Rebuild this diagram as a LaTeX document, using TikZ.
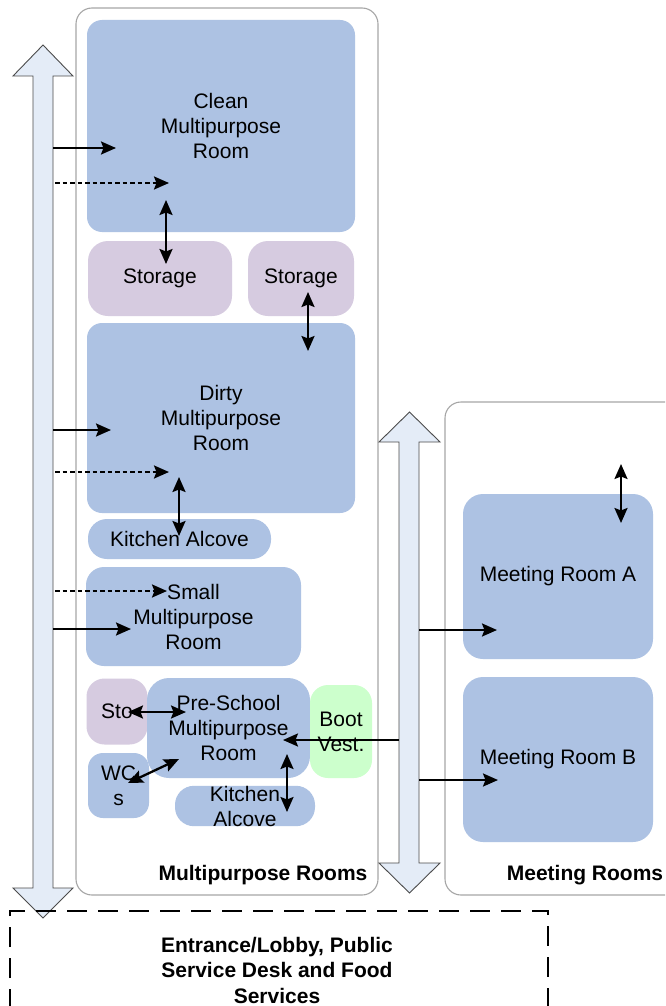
\documentclass[tikz,border=0pt]{standalone}
\usepackage{fontspec}
\setmainfont{Liberation Sans}
\usetikzlibrary{arrows.meta}
\definecolor{roomblue}{HTML}{ADC2E3}
\definecolor{roomlav}{HTML}{D6CBE0}
\definecolor{roomgreen}{HTML}{CCFFCC}
\definecolor{corrfill}{HTML}{E4ECF7}
\definecolor{contgray}{HTML}{A6A6A6}
\tikzset{
  room/.style={fill=roomblue, draw=none, rounded corners=15pt, inner sep=0pt, align=center,
    font=\fontsize{21}{25}\selectfont},
  lav/.style={room, fill=roomlav},
  green/.style={room, fill=roomgreen},
  container/.style={draw=contgray, line width=1.1pt, rounded corners=16pt},
  corridor/.style={draw=black!70, line width=0.9pt, fill=corrfill},
  flow/.style={line width=2.3pt, -{Stealth[length=15pt,width=13pt,inset=2.5pt]}},
  dflow/.style={flow, dash pattern=on 4.5pt off 3pt},
  both/.style={line width=2.3pt, {Stealth[length=15pt,width=13pt,inset=2.5pt]}-{Stealth[length=15pt,width=13pt,inset=2.5pt]}},
  lbl/.style={font=\fontsize{21}{25}\selectfont\bfseries, align=center, inner sep=0pt}
}
\begin{document}
\begin{tikzpicture}[x=1pt,y=-1pt]
\clip (0,0) rectangle (665,1006);
\fill[white] (0,0) rectangle (665,1006);

% containers
\draw[container] (76,8) rectangle (378,895);
\draw[container] (445,402) rectangle (690,895);
\node[lbl] (mplabel) at (263,875) {Multipurpose Rooms};
\node[lbl] (mtlabel) at (585,875) {Meeting Rooms};

% corridors (double arrows)
\draw[corridor] (43,45) -- (73,76) -- (53,76) -- (53,888) -- (73,888) -- (43,918)
  -- (13,888) -- (33,888) -- (33,76) -- (13,76) -- cycle;
\draw[corridor] (409.5,412) -- (440,442) -- (419,442) -- (419,863) -- (440,863) -- (409.5,893)
  -- (379,863) -- (399,863) -- (399,442) -- (379,442) -- cycle;

% rooms
\node[room, minimum width=268pt, minimum height=212pt] (clean) at (221,126) {Clean\\Multipurpose\\Room};
\node[lav, minimum width=144pt, minimum height=75pt, rounded corners=20pt] (stor1) at (160,278.5) {Storage};
\node[lav, minimum width=106pt, minimum height=75pt, rounded corners=20pt] (stor2) at (301,278.5) {Storage};
\node[room, minimum width=268pt, minimum height=190pt] (dirty) at (221,418) {Dirty\\Multipurpose\\Room};
\node[room, minimum width=183pt, minimum height=40pt, rounded corners=19pt] (kit1) at (179.5,539) {Kitchen Alcove};
\node[room, minimum width=215pt, minimum height=99pt, rounded corners=18pt] (small) at (193.5,616.5) {Small\\Multipurpose\\Room};
\node[lav, minimum width=61pt, minimum height=66pt, rounded corners=18pt] (sto) at (117,711.5) {Sto};
\node[room, minimum width=163pt, minimum height=100pt, rounded corners=22pt] (pre) at (228.5,728) {Pre-School\\Multipurpose\\Room};
\node[green, minimum width=62pt, minimum height=93pt, rounded corners=18pt] (boot) at (341,731.5) {Boot\\Vest.};
\node[room, minimum width=61pt, minimum height=65pt, rounded corners=15pt] (wc) at (118.5,785.5) {WC\\s};
\node[room, minimum width=140pt, minimum height=40pt, rounded corners=19pt] (kit2) at (245,806) {Kitchen\\Alcove};
\node[room, minimum width=190pt, minimum height=165pt, rounded corners=20pt] (ma) at (558,576.5) {Meeting Room A};
\node[room, minimum width=190pt, minimum height=165pt, rounded corners=20pt] (mb) at (558,759.5) {Meeting Room B};

% entrance
\draw[line width=2.4pt, dash pattern=on 20pt off 11pt] (10,1040) -- (10,911) -- (548,911) -- (548,1040);
\node[lbl, font=\fontsize{21}{25.5}\selectfont\bfseries] (ent) at (277,970) {Entrance/Lobby, Public\\Service Desk and Food\\Services};

% connector end points
\coordinate (a1s) at (53,148);   \coordinate (a1e) at (116,148);
\coordinate (a2s) at (55,183);   \coordinate (a2e) at (169,183);
\coordinate (a3s) at (166,200);  \coordinate (a3e) at (166,264);
\coordinate (a4s) at (308,292);  \coordinate (a4e) at (308,351);
\coordinate (a5s) at (53,430);   \coordinate (a5e) at (111,430);
\coordinate (a6s) at (55,472);   \coordinate (a6e) at (169,472);
\coordinate (a7s) at (179,477);  \coordinate (a7e) at (179,536);
\coordinate (a8s) at (55,591);   \coordinate (a8e) at (167,591);
\coordinate (a9s) at (53,629);   \coordinate (a9e) at (131,629);
\coordinate (b1s) at (128,712);  \coordinate (b1e) at (186,712);
\coordinate (b2s) at (128,783);  \coordinate (b2e) at (179,759);
\coordinate (b3s) at (287,754);  \coordinate (b3e) at (287,812);
\coordinate (b4s) at (399,740);  \coordinate (b4e) at (283,740);
\coordinate (c1s) at (419,630);  \coordinate (c1e) at (497,630);
\coordinate (c2s) at (419,780);  \coordinate (c2e) at (498,780);
\coordinate (c3s) at (621,464);  \coordinate (c3e) at (621,523);

% connectors
\draw[flow] (a1s) -- (a1e);
\draw[dflow] (a2s) -- (a2e);
\draw[both] (a3s) -- (a3e);
\draw[both] (a4s) -- (a4e);
\draw[flow] (a5s) -- (a5e);
\draw[dflow] (a6s) -- (a6e);
\draw[both] (a7s) -- (a7e);
\draw[dflow] (a8s) -- (a8e);
\draw[flow] (a9s) -- (a9e);
\draw[both] (b1s) -- (b1e);
\draw[both] (b2s) -- (b2e);
\draw[both] (b3s) -- (b3e);
\draw[flow] (b4s) -- (b4e);
\draw[flow] (c1s) -- (c1e);
\draw[flow] (c2s) -- (c2e);
\draw[both] (c3s) -- (c3e);
\end{tikzpicture}
\end{document}
